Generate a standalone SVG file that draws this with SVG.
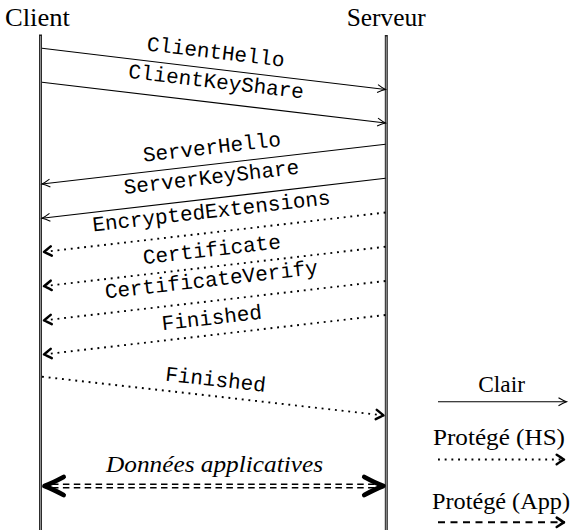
<svg xmlns="http://www.w3.org/2000/svg" width="571" height="530" viewBox="0 0 571 530">
<style>
.life{stroke:#222;stroke-width:3}
.lifein{stroke:#909090;stroke-width:1.2}
.msg{stroke:#000;stroke-width:1.1;fill:none}
.hs{stroke:#000;stroke-width:1.9;stroke-dasharray:1.9 4.8;fill:none}
.app{stroke:#000;stroke-width:1.9;stroke-dasharray:7 5.5;fill:none}
.dbl{stroke:#000;stroke-width:1.4;stroke-dasharray:6.5 4.4;fill:none}
.tt{font-family:"Liberation Mono","DejaVu Sans Mono",monospace;font-size:21px;text-anchor:middle;fill:#000}
.rm{font-family:"Liberation Serif","DejaVu Serif",serif;font-size:23px;fill:#000}
.hd{font-family:"Liberation Serif","DejaVu Serif",serif;font-size:25px;fill:#000}
</style>
<defs>
<marker id="tip" markerUnits="userSpaceOnUse" viewBox="-10 -6 12 12" markerWidth="12" markerHeight="12" refX="0" refY="0" orient="auto">
<path d="M-8,-4 Q-3,-1 0,0 Q-3,1 -8,4" fill="none" stroke="#000" stroke-width="1.1"/>
</marker>
<marker id="tipB" markerUnits="userSpaceOnUse" viewBox="-12 -8 14 16" markerWidth="14" markerHeight="16" refX="0" refY="0" orient="auto">
<path d="M-8.3,-4.7 Q-3.2,-1.3 -1,0 Q-3.2,1.3 -8.3,4.7" fill="none" stroke="#000" stroke-width="2.5" stroke-linecap="round" stroke-linejoin="round"/>
</marker>
<marker id="tipX" markerUnits="userSpaceOnUse" viewBox="-25 -14 29 28" markerWidth="29" markerHeight="28" refX="0" refY="0" orient="auto-start-reverse">
<path d="M-19,-9 Q-7,-2.6 0,0 Q-7,2.6 -19,9" fill="none" stroke="#000" stroke-width="4.8" stroke-linecap="round" stroke-linejoin="round"/>
</marker>
</defs>

<g id="client">
<line class="life" x1="40.5" y1="34.5" x2="40.5" y2="530"/>
<line class="lifein" x1="40.5" y1="36" x2="40.5" y2="530"/>
<text class="hd" x="5" y="26" textLength="65" lengthAdjust="spacingAndGlyphs">Client</text>
</g>
<g id="serveur">
<line class="life" x1="386.3" y1="35" x2="386.3" y2="530"/>
<line class="lifein" x1="386.3" y1="36.5" x2="386.3" y2="530"/>
<text class="hd" x="346.7" y="26" textLength="79" lengthAdjust="spacingAndGlyphs">Serveur</text>
</g>

<g id="connectors">
<line class="msg" x1="42" y1="48.3" x2="385.5" y2="89.5" marker-end="url(#tip)"/>
<line class="msg" x1="42" y1="82.3" x2="385.5" y2="123" marker-end="url(#tip)"/>
<line class="msg" x1="385.5" y1="144.3" x2="42" y2="184" marker-end="url(#tip)"/>
<line class="msg" x1="385.5" y1="178.3" x2="42" y2="218.3" marker-end="url(#tip)"/>
<line class="hs" x1="385.5" y1="212.5" x2="43" y2="252" marker-end="url(#tipB)"/>
<line class="hs" x1="385.5" y1="246.7" x2="43" y2="286.3" marker-end="url(#tipB)"/>
<line class="hs" x1="385.5" y1="281" x2="43" y2="320.5" marker-end="url(#tipB)"/>
<line class="hs" x1="385.5" y1="315" x2="43" y2="354.5" marker-end="url(#tipB)"/>
<line class="hs" x1="42" y1="376.7" x2="384.5" y2="415.5" marker-end="url(#tipB)"/>
<line class="dbl" x1="52" y1="484.3" x2="376" y2="484.3"/>
<line class="dbl" x1="52" y1="487.7" x2="376" y2="487.7"/>
<path d="M44.6,486 L383.3,486" fill="none" stroke="none" marker-start="url(#tipX)" marker-end="url(#tipX)"/>
</g>

<g id="labels">
<text class="tt" transform="translate(213.75,68.9) rotate(6.8)" x="0" y="-10.4">ClientHello</text>
<text class="tt" transform="translate(213.75,102.65) rotate(6.75)" x="0" y="-14.6">ClientKeyShare</text>
<text class="tt" transform="translate(213.75,164.15) rotate(-6.6)" x="0" y="-10.4">ServerHello</text>
<text class="tt" transform="translate(213.75,198.3) rotate(-6.6)" x="0" y="-14.6">ServerKeyShare</text>
<text class="tt" transform="translate(213.75,232.25) rotate(-6.6)" x="0" y="-14.6">EncryptedExtensions</text>
<text class="tt" transform="translate(213.75,266.5) rotate(-6.6)" x="0" y="-10.4">Certificate</text>
<text class="tt" transform="translate(213.75,300.75) rotate(-6.6)" x="0" y="-14.6">CertificateVerify</text>
<text class="tt" transform="translate(213.75,334.75) rotate(-6.6)" x="0" y="-10.4">Finished</text>
<text class="tt" transform="translate(213.75,396.1) rotate(6.45)" x="0" y="-10">Finished</text>
<text class="rm" x="106" y="471.7" font-style="italic" textLength="217" lengthAdjust="spacingAndGlyphs">Données applicatives</text>
</g>

<g id="legend">
<text class="rm" x="478.3" y="391.5" textLength="46.7" lengthAdjust="spacingAndGlyphs">Clair</text>
<line class="msg" x1="438" y1="401.7" x2="566.5" y2="401.7" marker-end="url(#tip)"/>
<text class="rm" x="433" y="444.5" textLength="132" lengthAdjust="spacingAndGlyphs">Protégé (HS)</text>
<line class="hs" x1="438" y1="459.5" x2="565" y2="459.5" marker-end="url(#tipB)"/>
<text class="rm" x="432" y="509" textLength="138" lengthAdjust="spacingAndGlyphs">Protégé (App)</text>
<line class="app" x1="438" y1="522.3" x2="565" y2="522.3" marker-end="url(#tipB)"/>
</g>
</svg>
